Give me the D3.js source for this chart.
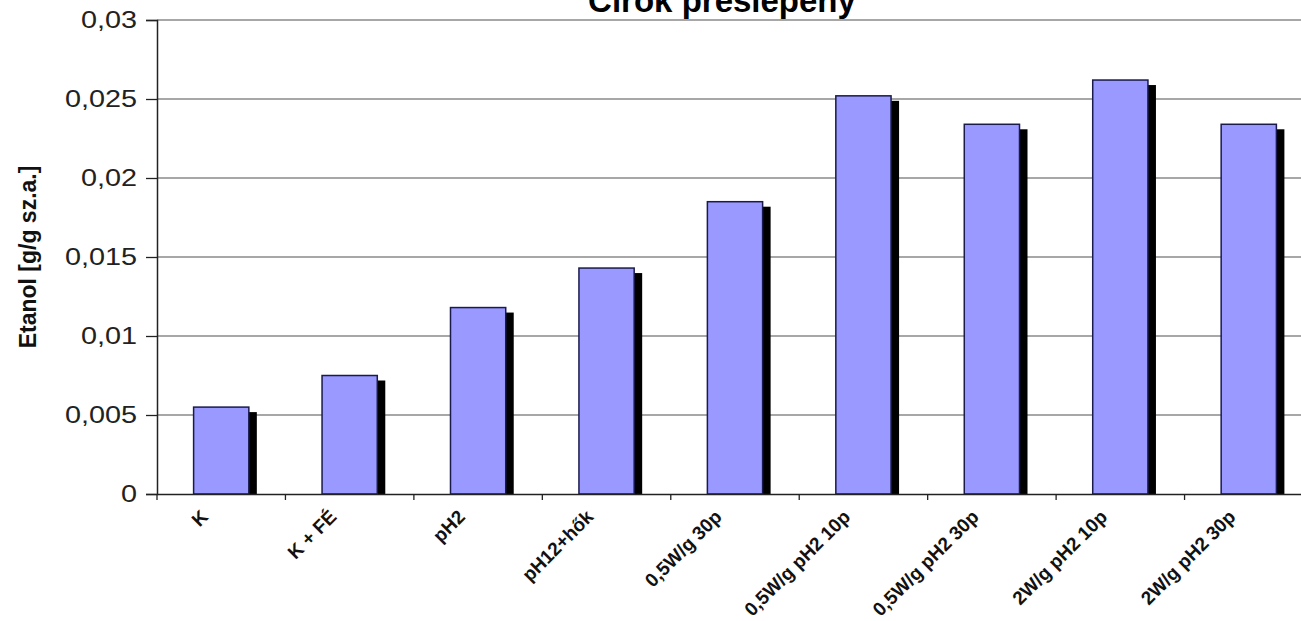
<!DOCTYPE html>
<html><head><meta charset="utf-8">
<script src="https://cdn.jsdelivr.net/npm/d3@7"></script>
<style>body{margin:0;background:#fff;overflow:hidden}</style>
</head><body>
<svg id="c" width="1301" height="621"></svg>
<script>
const titleText = "Cirok préslepény";
const yLabel = "Etanol [g/g sz.a.]";
const categories = ["K","K + FÉ","pH2","pH12+hők","0,5W/g 30p","0,5W/g pH2 10p","0,5W/g pH2 30p","2W/g pH2 10p","2W/g pH2 30p"];
const values = [0.0055,0.0075,0.0118,0.0143,0.0185,0.0252,0.0234,0.0262,0.0234];
const yTicks = [0,0.005,0.01,0.015,0.02,0.025,0.03];
const yTickLabels = ["0","0,005","0,01","0,015","0,02","0,025","0,03"];

const svg = d3.select("#c");
const L = 157, T = 20, B = 494, R = 1313;
const FONT = "Liberation Sans, Arial, sans-serif";
const x = d3.scaleBand().domain(categories).range([L, R]).paddingInner(0.57).paddingOuter(0.285);
const y = d3.scaleLinear().domain([0,0.03]).range([B, T]);

// gridlines
svg.append("g").selectAll("line").data(yTicks.slice(1)).join("line")
  .attr("x1", L).attr("x2", R).attr("y1", d=>y(d)).attr("y2", d=>y(d))
  .attr("stroke", "#8a8a8a").attr("stroke-width", 1.3);

// shadows
svg.append("g").selectAll("rect").data(values).join("rect")
  .attr("x", (d,i)=>x(categories[i])+8).attr("y", d=>y(d)+5)
  .attr("width", x.bandwidth()).attr("height", d=>B-y(d)-5)
  .attr("fill", "#000");
// bars
svg.append("g").selectAll("rect").data(values).join("rect")
  .attr("x", (d,i)=>x(categories[i])).attr("y", d=>y(d))
  .attr("width", x.bandwidth()).attr("height", d=>B-y(d))
  .attr("fill", "#9999ff").attr("stroke", "#1a1a4d").attr("stroke-width", 1.5);

// y axis
const yAxis = d3.axisLeft(y).tickValues(yTicks).tickFormat((d,i)=>yTickLabels[i]).tickSize(11).tickPadding(0);
const gy = svg.append("g").attr("transform", `translate(${L},0)`).call(yAxis);
gy.select(".domain").attr("stroke", "#222").attr("stroke-width", 1.5);
gy.selectAll(".tick line").attr("stroke", "#222").attr("stroke-width", 1.3);
gy.selectAll("text").attr("font-family", FONT).attr("font-size", 24).attr("fill", "#222")
  .attr("x", -20/1.2).attr("transform", "scale(1.2,1)");

// x axis
const xAxis = d3.axisBottom(x).tickSize(0).tickFormat("");
const gx = svg.append("g").attr("transform", `translate(0,${B})`).call(xAxis);
gx.select(".domain").attr("stroke", "#222").attr("stroke-width", 1.5);
const step = x.step();
svg.append("g").selectAll("line").data(d3.range(0, categories.length+1)).join("line")
  .attr("x1", i=>L + i*step).attr("x2", i=>L + i*step).attr("y1", B).attr("y2", B+6)
  .attr("stroke", "#222").attr("stroke-width", 1.3);

// x labels
svg.append("g").selectAll("text").data(categories).join("text")
  .attr("transform", d=>`translate(${x(d)+x.bandwidth()/2-12},${B+24}) rotate(-45)`)
  .attr("text-anchor", "end")
  .attr("font-family", FONT).attr("font-weight", "bold").attr("font-size", 19)
  .attr("fill", "#111").text(d=>d);

// y label
svg.append("text").attr("transform", `translate(36,${(T+B)/2}) rotate(-90)`)
  .attr("text-anchor", "middle").attr("font-family", FONT)
  .attr("font-weight", "bold").attr("font-size", 23).attr("fill", "#111").text(yLabel);

// title
svg.append("text").attr("x", 722).attr("y", 12).attr("text-anchor", "middle")
  .attr("font-family", FONT).attr("font-weight", "bold")
  .attr("font-size", 33).attr("fill", "#000").text(titleText);
</script>
</body></html>
